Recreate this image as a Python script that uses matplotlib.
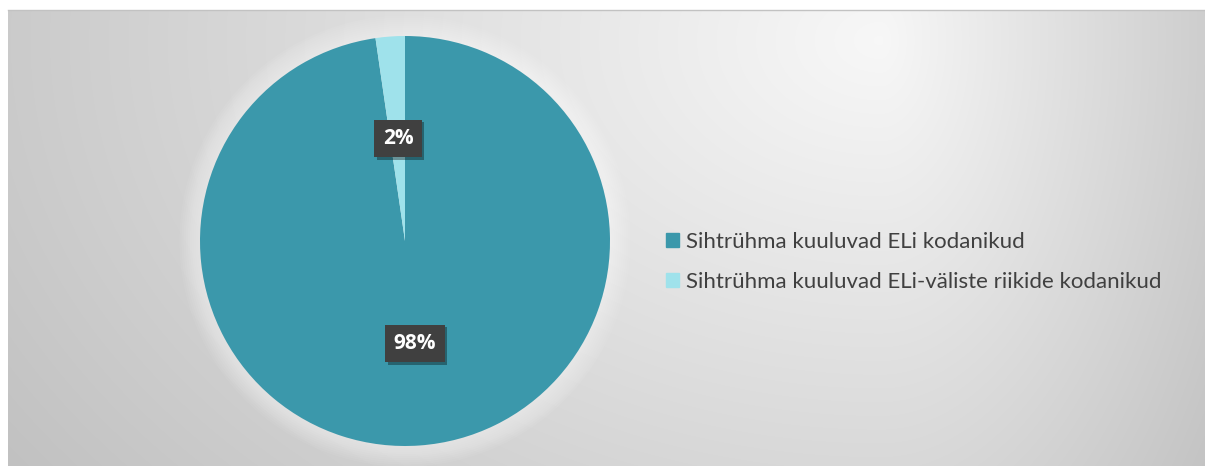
import numpy as np
import matplotlib
matplotlib.use('Agg')
import matplotlib.pyplot as plt
import matplotlib.patches as mpatches
import matplotlib.patheffects as pe

# data
labels = ['Sihtrühma kuuluvad ELi kodanikud',
          'Sihtrühma kuuluvad ELi-väliste riikide kodanikud']
shares = [97.7, 2.3]
pct_text = ['98%', '2%']
colors = ['#3b98ab', '#9fe2eb']

W, H = 1205, 466
fig = plt.figure(figsize=(W / 100, H / 100), dpi=100)
fig.patch.set_facecolor('white')

# background with a soft radial gradient
bg = fig.add_axes([8 / W, 0, (W - 8) / W, (H - 10) / H])
xx, yy = np.meshgrid(np.arange(8, W), np.arange(10, H))
dx = xx - 880.0
rx = np.where(dx < 0, 1000.0, 400.0)
t = np.sqrt((dx / rx) ** 2 + ((yy - 40.0) / 700.0) ** 2)
shade = np.clip(0.97 - 0.20 * t, 0.76, 0.97)
bg.imshow(np.dstack([shade] * 3), aspect='auto', extent=(0, 1, 0, 1))
bg.set_axis_off()
fig.add_artist(plt.Line2D([8 / W, 1], [1 - 10 / H, 1 - 10 / H], color='#c2c2c2', lw=1))

# pie
cx, cy, r = 405, 241, 205
ax = fig.add_axes([(cx - r) / W, (H - cy - r) / H, 2 * r / W, 2 * r / H])
for k in range(10):
    ax.add_patch(mpatches.Circle((0, 0), 1.0 + 0.01 * (10 - k), color='white',
                                 alpha=0.06, lw=0, zorder=0, clip_on=False))
wedges, _ = ax.pie(shares, colors=colors, startangle=90, counterclock=False,
                   radius=1.0, wedgeprops=dict(linewidth=0))
ax.set_xlim(-1, 1)
ax.set_ylim(-1, 1)
ax.set_aspect('equal')

pos = [(0.049, -0.50), (-0.034, 0.50)]
for (px, py), txt in zip(pos, pct_text):
    t_ = ax.text(px, py, txt, ha='center', va='center', color='white',
                 fontsize=15, fontweight='bold', family='Open Sans',
                 bbox=dict(boxstyle='square,pad=0.4', fc='#404040', ec='none'))
    t_.get_bbox_patch().set_path_effects([
        pe.SimplePatchShadow(offset=(2, -2), shadow_rgbFace='black', alpha=0.35),
        pe.Normal()])

handles = [mpatches.Patch(color=c, label=l) for c, l in zip(colors, labels)]
leg = fig.legend(handles=handles, loc='center left',
                 bbox_to_anchor=(657 / W, 1 - 262 / H),
                 frameon=False, prop=dict(family='Lato', size=16),
                 handlelength=0.6, handleheight=0.6, handletextpad=0.3,
                 labelspacing=0.88, borderaxespad=0)
for txt in leg.get_texts():
    txt.set_color('#404040')

fig.savefig('out.png', dpi=100)
